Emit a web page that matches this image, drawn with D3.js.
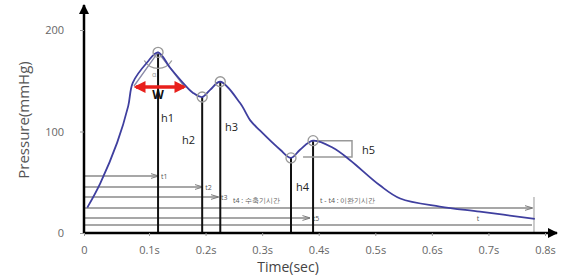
<!DOCTYPE html>
<html>
<head>
<meta charset="utf-8">
<script src="https://cdn.jsdelivr.net/npm/d3@7"></script>
<style>
  body { margin: 0; background: #fff; }
  text { font-family: "Open Sans", "Noto Sans", sans-serif; }
</style>
</head>
<body>
<div id="chart"></div>
<script>
// pressure waveform
const times = [0.005, 0.025, 0.051, 0.068, 0.075, 0.097, 0.116, 0.137, 0.160, 0.178, 0.194,
    0.208, 0.226, 0.261, 0.279, 0.296, 0.332, 0.351, 0.367, 0.390, 0.425, 0.455, 0.508,
    0.544, 0.614, 0.685, 0.782];
const pressures = [25, 49, 89, 125, 148, 168, 178, 163, 148, 138, 134,
    141, 149, 128, 111, 101, 82, 74, 82, 91, 84, 72, 47,
    34, 26, 21, 14];

const peakNames = ["h1", "h2", "h3", "h4", "h5"];
const peakTimes = [0.116, 0.194, 0.226, 0.351, 0.390];
const peakValues = [178, 134, 149, 74, 91];

const xTicks = [0, 0.1, 0.2, 0.3, 0.4, 0.5, 0.6, 0.7, 0.8];
const xTickLabels = ["0", "0.1s", "0.2s", "0.3s", "0.4s", "0.5s", "0.6s", "0.7s", "0.8s"];
const yTicks = [0, 100, 200];

// time interval rows under the curve
const spanNames = ["t1", "t2", "t3", "", "t5", "t"];
const spanEnds = [0.116, 0.194, 0.222, 0.777, 0.384, 0.777];
const totalTime = 0.777;
const systoleLabel = "t4 : 수축기시간";
const diastoleLabel = "t - t4 : 이완기시간";

const width = 569, height = 276;

const svg = d3.select("#chart").append("svg")
    .attr("width", width)
    .attr("height", height);

// the drawing is not evenly spaced between 0 and 0.1s
const x = d3.scaleLinear()
    .domain([0, 0.1, 0.8])
    .range([84, 149, 545]);
const y = d3.scaleLinear()
    .domain([0, 200])
    .range([233, 30]);

const defs = svg.append("defs");
defs.append("marker")
    .attr("id", "blackArrow")
    .attr("viewBox", "0 0 10 10")
    .attr("refX", 9).attr("refY", 5)
    .attr("markerWidth", 4).attr("markerHeight", 4)
    .attr("orient", "auto-start-reverse")
    .append("path").attr("d", "M0,0L10,5L0,10z").attr("fill", "#000");
defs.append("marker")
    .attr("id", "redArrow")
    .attr("viewBox", "0 0 10 10")
    .attr("refX", 8).attr("refY", 5)
    .attr("markerWidth", 3.4).attr("markerHeight", 3.4)
    .attr("orient", "auto-start-reverse")
    .append("path").attr("d", "M0,0L10,5L0,10z").attr("fill", "#e8201c");
defs.append("marker")
    .attr("id", "grayArrow")
    .attr("viewBox", "0 0 10 10")
    .attr("refX", 9).attr("refY", 5)
    .attr("markerWidth", 5).attr("markerHeight", 5)
    .attr("orient", "auto")
    .append("path").attr("d", "M0,2L10,5L0,8").attr("fill", "none").attr("stroke", "#777").attr("stroke-width", 1.2);

// horizontal time rows
const rowY = [176, 187, 197, 208, 218, 225];
const rows = svg.append("g");
spanEnds.forEach((end, i) => {
    rows.append("line")
        .attr("x1", x(0)).attr("x2", x(end))
        .attr("y1", rowY[i]).attr("y2", rowY[i])
        .attr("stroke", "#8a8a8a")
        .attr("stroke-width", 1.6)
        .attr("marker-end", i < 5 ? "url(#grayArrow)" : null);
    if (spanNames[i] && i < 5) {
        rows.append("text")
            .attr("x", x(end) + 3).attr("y", rowY[i] + 2.5)
            .attr("font-size", 7).attr("fill", "#555")
            .text(spanNames[i]);
    }
});
rows.append("text")
    .attr("x", 478).attr("y", 221)
    .attr("text-anchor", "middle")
    .attr("font-size", 7).attr("fill", "#555")
    .text(spanNames[5]);
rows.append("text")
    .attr("x", 233).attr("y", 203)
    .attr("font-size", 7).attr("fill", "#555")
    .text(systoleLabel);
rows.append("text")
    .attr("x", 320).attr("y", 203)
    .attr("font-size", 7).attr("fill", "#555")
    .text(diastoleLabel);
rows.append("line")
    .attr("x1", x(totalTime) + 2).attr("x2", x(totalTime) + 2)
    .attr("y1", 197).attr("y2", 233)
    .attr("stroke", "#999").attr("stroke-width", 1);

// vertical lines at the peaks
svg.append("g")
    .selectAll("line")
    .data(peakTimes)
    .join("line")
        .attr("x1", (d) => x(d)).attr("x2", (d) => x(d))
        .attr("y1", y(0))
        .attr("y2", (d, i) => y(peakValues[i]))
        .attr("stroke", "#111")
        .attr("stroke-width", 2);

// h5 bracket
const h5x = x(peakTimes[4]);
svg.append("path")
    .attr("d", `M${h5x},${y(91)}H352V157H${h5x - 10}`)
    .attr("fill", "none")
    .attr("stroke", "#999")
    .attr("stroke-width", 1.5);

// angle at the first peak
const px = x(peakTimes[0]), py = y(peakValues[0]);
svg.append("path")
    .attr("d", `M134,86L${px},${py}L184,86`)
    .attr("fill", "none")
    .attr("stroke", "#8a8aa8")
    .attr("stroke-width", 1.3);
svg.append("path")
    .attr("d", d3.arc()({innerRadius: 16, outerRadius: 16, startAngle: Math.PI * 0.67, endAngle: Math.PI * 1.33}))
    .attr("transform", `translate(${px},${py})`)
    .attr("fill", "none")
    .attr("stroke", "#999")
    .attr("stroke-width", 1.3);
svg.append("text")
    .attr("x", px - 6).attr("y", py + 25)
    .attr("font-size", 7).attr("fill", "#999")
    .text("α");

// waveform
const line = d3.line()
    .x((d, i) => x(times[i]))
    .y((d) => y(d))
    .curve(d3.curveCatmullRom.alpha(0.5));
svg.append("path")
    .attr("d", line(pressures))
    .attr("fill", "none")
    .attr("stroke", "#3f3f9f")
    .attr("stroke-width", 1.8);

// open circles at the peaks
svg.append("g")
    .selectAll("circle")
    .data(peakTimes)
    .join("circle")
        .attr("cx", (d) => x(d))
        .attr("cy", (d, i) => y(peakValues[i]))
        .attr("r", 5)
        .attr("fill", "none")
        .attr("stroke", "#999")
        .attr("stroke-width", 1.3);

// W width arrow
svg.append("line")
    .attr("x1", 136).attr("x2", 184)
    .attr("y1", 87).attr("y2", 87)
    .attr("stroke", "#e8201c")
    .attr("stroke-width", 3.5)
    .attr("marker-start", "url(#redArrow)")
    .attr("marker-end", "url(#redArrow)");
svg.append("text")
    .attr("x", 158).attr("y", 99)
    .attr("text-anchor", "middle")
    .attr("font-size", 12).attr("font-weight", "bold")
    .attr("fill", "#111")
    .text("W");

// peak labels
const labelPos = [[161, 122], [182, 144], [225, 131], [296, 191], [362, 154]];
svg.append("g")
    .selectAll("text")
    .data(peakNames)
    .join("text")
        .attr("x", (d, i) => labelPos[i][0])
        .attr("y", (d, i) => labelPos[i][1])
        .attr("font-size", 11)
        .attr("fill", "#222")
        .text((d) => d);

// axes
svg.append("line")
    .attr("x1", x(0)).attr("x2", 557)
    .attr("y1", y(0)).attr("y2", y(0))
    .attr("stroke", "#000").attr("stroke-width", 2.5)
    .attr("marker-end", "url(#blackArrow)");
svg.append("line")
    .attr("x1", x(0)).attr("x2", x(0))
    .attr("y1", y(0) + 1).attr("y2", 5)
    .attr("stroke", "#000").attr("stroke-width", 2.5)
    .attr("marker-end", "url(#blackArrow)");

svg.append("g")
    .attr("transform", `translate(0,${y(0)})`)
    .call(d3.axisBottom(x).tickValues(xTicks).tickSize(3).tickPadding(10)
        .tickFormat((d, i) => xTickLabels[i]))
    .call((g) => g.select(".domain").remove())
    .call((g) => g.selectAll(".tick line").attr("stroke", "#999"))
    .call((g) => g.selectAll(".tick text").attr("font-size", 11).attr("fill", "#666")
        .attr("font-family", "\"Open Sans\", sans-serif"));

svg.append("g")
    .attr("transform", `translate(${x(0)},0)`)
    .call(d3.axisLeft(y).tickValues(yTicks).tickSize(4).tickPadding(16))
    .call((g) => g.select(".domain").remove())
    .call((g) => g.selectAll(".tick line").attr("stroke", "#999"))
    .call((g) => g.selectAll(".tick text").attr("font-size", 11).attr("fill", "#666")
        .attr("font-family", "\"Open Sans\", sans-serif"));

svg.append("text")
    .attr("transform", "translate(29,120) rotate(-90)")
    .attr("text-anchor", "middle")
    .attr("font-size", 15).attr("fill", "#555")
    .text("Pressure(mmHg)");
svg.append("text")
    .attr("x", 288).attr("y", 272)
    .attr("text-anchor", "middle")
    .attr("font-size", 14).attr("fill", "#444")
    .text("Time(sec)");
</script>
</body>
</html>
